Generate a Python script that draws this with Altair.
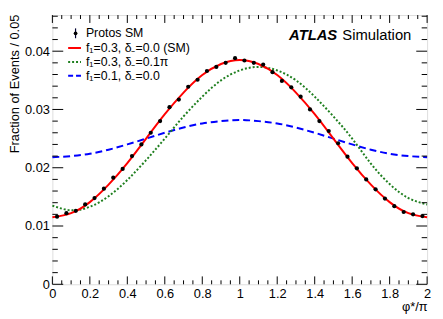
import altair as alt
import pandas as pd

# ---- data ----
pts_x = [0.025, 0.075, 0.125, 0.175, 0.225, 0.275, 0.325, 0.375, 0.425, 0.475,
         0.525, 0.575, 0.625, 0.675, 0.725, 0.775, 0.825, 0.875, 0.925, 0.975,
         1.025, 1.075, 1.125, 1.175, 1.225, 1.275, 1.325, 1.375, 1.425, 1.475,
         1.525, 1.575, 1.625, 1.675, 1.725, 1.775, 1.825, 1.875, 1.925, 1.975]
pts_y = [0.0116, 0.0122, 0.0126, 0.0137, 0.0148, 0.0164, 0.0183, 0.0198, 0.0220, 0.0240,
         0.0260, 0.0280, 0.0304, 0.0317, 0.0339, 0.0351, 0.0366, 0.0373, 0.0380, 0.0388,
         0.0384, 0.0380, 0.0377, 0.0364, 0.0349, 0.0338, 0.0322, 0.0300, 0.0280, 0.0263,
         0.0242, 0.0219, 0.0199, 0.0180, 0.0163, 0.0147, 0.0134, 0.0124, 0.0120, 0.0117]

curve_x = [0.0, 0.1, 0.2, 0.3, 0.4, 0.5, 0.6, 0.7, 0.8, 0.9, 1.0,
           1.1, 1.2, 1.3, 1.4, 1.5, 1.6, 1.7, 1.8, 1.9, 2.0]
sm_y = [0.0115, 0.0122, 0.0141, 0.0171, 0.0208, 0.0250, 0.0292, 0.0329, 0.0359, 0.0378, 0.0385,
        0.0378, 0.0359, 0.0329, 0.0292, 0.0250, 0.0208, 0.0171, 0.0141, 0.0122, 0.0115]
green_y = [0.0135, 0.0127, 0.0133, 0.0151, 0.0179, 0.0213, 0.0250, 0.0288, 0.0322, 0.0350, 0.0367,
           0.0373, 0.0367, 0.0350, 0.0322, 0.0288, 0.0250, 0.0207, 0.0172, 0.0148, 0.0137]
blue_y = [0.0218, 0.0220, 0.0224, 0.0231, 0.0240, 0.0250, 0.0260, 0.0269, 0.0276, 0.0280, 0.0282,
          0.0280, 0.0276, 0.0269, 0.0260, 0.0250, 0.0240, 0.0231, 0.0224, 0.0220, 0.0218]

legend_labels = ["Protos SM", "f\u2081=0.3, \u03b4\u208b=0.0 (SM)",
                 "f\u2081=0.3, \u03b4\u208b=0.1\u03c0", "f\u2081=0.1, \u03b4\u208b=0.0"]

x_major = [0.0, 0.2, 0.4, 0.6, 0.8, 1.0, 1.2, 1.4, 1.6, 1.8, 2.0]
x_minor = [round(i * 0.05, 3) for i in range(41) if i % 4 != 0]
y_major = [0.0, 0.01, 0.02, 0.03, 0.04]
y_minor = [round(i * 0.002, 4) for i in range(24) if i % 5 != 0]

# ---- layout ----
W, H = 380, 273
FONT = "Liberation Sans"
RED, GREEN, BLUE = "#ff0000", "#1f7f1f", "#0000ff"

xs = alt.Scale(domain=[0, 2], nice=False, zero=False)
ys = alt.Scale(domain=[0, 0.0462], nice=False, zero=True)

xaxis = alt.Axis(values=x_major, format="~g", ticks=False, tickSize=0, domain=False, grid=False,
                 labelFont=FONT, labelFontSize=13, labelColor="black", labelPadding=3,
                 labelFlush=False, labelOverlap=False, labelBound=False,
                 title="\u03c6*/\u03c0", titleFont=FONT, titleFontSize=13, titleFontWeight="normal",
                 titleColor="black", titleAnchor="end", titleAlign="right", titleX=W, titleY=27,
                 titleBaseline="alphabetic")
yaxis = alt.Axis(values=y_major, labelExpr="datum.value == 0 ? '0' : format(datum.value, '.2f')",
                 ticks=False, tickSize=0, domain=False, grid=False,
                 labelFont=FONT, labelFontSize=13, labelColor="black", labelPadding=3,
                 labelOverlap=False, labelBound=False, labelFlush=False,
                 title="Fraction of Events / 0.05", titleFont=FONT, titleFontSize=13,
                 titleFontWeight="normal", titleColor="black", titleAngle=270, titleAlign="right",
                 titleBaseline="middle", titleX=-38, titleY=-1)

X = alt.X("x:Q", scale=xs, axis=xaxis)
Y = alt.Y("y:Q", scale=ys, axis=yaxis)

df_pts = pd.DataFrame({"x": pts_x, "y": pts_y})
df_sm = pd.DataFrame({"x": curve_x, "y": sm_y})
df_g = pd.DataFrame({"x": curve_x, "y": green_y})
df_b = pd.DataFrame({"x": curve_x, "y": blue_y})

blue_line = alt.Chart(df_b).mark_line(color=BLUE, strokeWidth=2, strokeDash=[7, 4],
                                      interpolate="natural").encode(x=X, y=Y)
green_line = alt.Chart(df_g).mark_line(color=GREEN, strokeWidth=2, strokeDash=[2, 2],
                                       interpolate="natural").encode(x=X, y=Y)
red_line = alt.Chart(df_sm).mark_line(color=RED, strokeWidth=2,
                                      interpolate="natural").encode(x=X, y=Y)
points = alt.Chart(df_pts).mark_point(filled=True, color="black", size=18, opacity=1,
                                      shape="circle").encode(x=X, y=Y)

# ---- inward ticks (ROOT style) ----
def yticks(vals, length):
    d = pd.DataFrame({"y": vals})
    left = alt.Chart(d).mark_rule(color="black", strokeWidth=1).encode(
        y=Y, x=alt.value(0), x2=alt.value(length))
    right = alt.Chart(d).mark_rule(color="black", strokeWidth=1).encode(
        y=Y, x=alt.value(W - length), x2=alt.value(W))
    return [left, right]

def xticks(vals, length):
    d = pd.DataFrame({"x": vals})
    bottom = alt.Chart(d).mark_rule(color="black", strokeWidth=1).encode(
        x=X, y=alt.value(H), y2=alt.value(H - length))
    top = alt.Chart(d).mark_rule(color="black", strokeWidth=1).encode(
        x=X, y=alt.value(0), y2=alt.value(length))
    return [bottom, top]

tick_layers = yticks(y_major, 11) + yticks(y_minor, 5.5) + xticks(x_major, 8) + xticks(x_minor, 4)

# ---- legend ----
one = pd.DataFrame({"a": [0]})
row_y = [18.5, 33.5, 47.5, 61.5]
leg = []
leg.append(alt.Chart(one).mark_rule(color="#000033", strokeWidth=1.2).encode(
    x=alt.value(23.5), y=alt.value(row_y[0] - 5), y2=alt.value(row_y[0] + 5)))
leg.append(alt.Chart(one).mark_point(filled=True, color="black", size=14, opacity=1).encode(
    x=alt.value(23.5), y=alt.value(row_y[0])))
styles = [(RED, [1, 0]), (GREEN, [2, 2]), (BLUE, [5, 3])]
for (col, dash), yy in zip(styles, row_y[1:]):
    leg.append(alt.Chart(one).mark_rule(color=col, strokeWidth=2, strokeDash=dash).encode(
        x=alt.value(16), x2=alt.value(29), y=alt.value(yy)))
for lab, yy in zip(legend_labels, row_y):
    leg.append(alt.Chart(pd.DataFrame({"t": [lab]})).mark_text(
        align="left", baseline="middle", font=FONT, fontSize=12.5, color="black").encode(
        x=alt.value(34), y=alt.value(yy), text="t:N"))

atlas = alt.Chart(pd.DataFrame({"t": ["ATLAS"]})).mark_text(
    align="left", baseline="alphabetic", font=FONT, fontSize=15, fontStyle="italic",
    fontWeight="bold", color="black").encode(x=alt.value(240), y=alt.value(25), text="t:N")
sim = alt.Chart(pd.DataFrame({"t": ["Simulation"]})).mark_text(
    align="right", baseline="alphabetic", font=FONT, fontSize=15, color="black").encode(
    x=alt.value(364), y=alt.value(25), text="t:N")

chart = alt.layer(blue_line, green_line, red_line, points, *tick_layers, *leg, atlas, sim).properties(
    width=W, height=H,
    autosize=alt.AutoSizeParams(type="none"),
    padding={"left": 45, "top": 5, "right": 8, "bottom": 30},
).configure_view(stroke="black", strokeWidth=1).configure(background="white")

chart.save("out.html", embed_options={"renderer": "svg", "actions": False})
